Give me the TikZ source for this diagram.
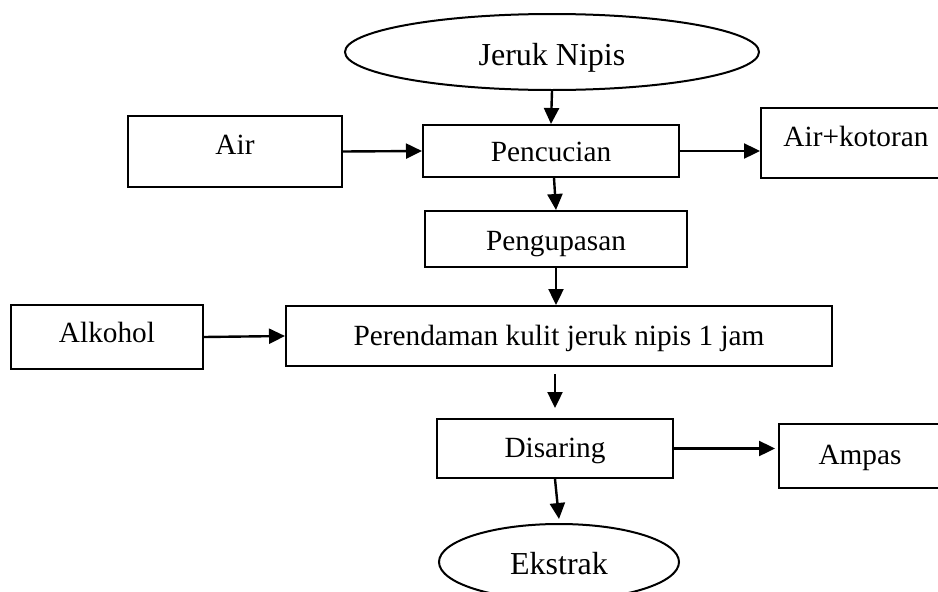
\documentclass[tikz,border=0pt]{standalone}
\usepackage{fontspec}
\setmainfont{Liberation Serif}
\usetikzlibrary{shapes.geometric,arrows.meta}
\begin{document}
\begin{tikzpicture}[x=1pt,y=-1pt,
  box/.style={font=\fontsize{29.3}{35}\selectfont,text height=19.4pt,text depth=0pt,draw,line width=2pt,rectangle,inner sep=0pt},
  oval/.style={font=\fontsize{32}{38}\selectfont,text height=21pt,text depth=0pt,draw,line width=2pt,ellipse,inner sep=0pt},
  arr/.style={line width=2.4pt,-{Triangle[length=16pt,width=15pt]}}]
\useasboundingbox (0,0) rectangle (938,592);
\clip (0,0) rectangle (938,592);
\node[oval,text height=26pt,minimum width=414pt,minimum height=76pt] (jn) at (552,52) {Jeruk Nipis};
\node[box,text height=21.4pt,minimum width=256pt,minimum height=52pt] (pc) at (551,151) {Pencucian};
\node[box,text depth=14pt,minimum width=214pt,minimum height=71pt] (air) at (235,151.5) {Air};
\node[box,text depth=13pt,minimum width=190pt,minimum height=70pt] (ak) at (856,143) {Air+kotoran};
\node[box,text height=22.4pt,minimum width=262pt,minimum height=56pt] (pg) at (556,239) {Pengupasan};
\node[box,minimum width=546pt,minimum height=60pt] (pr) at (559,336) {Perendaman kulit jeruk nipis 1 jam};
\node[box,text depth=8pt,minimum width=192pt,minimum height=64pt] (al) at (107,337) {Alkohol};
\node[box,text depth=1pt,minimum width=236pt,minimum height=59pt] (ds) at (555,448.5) {Disaring};
\node[box,text depth=3pt,minimum width=162pt,minimum height=64pt] (am) at (860,456) {Ampas};
\node[oval,text height=25pt,minimum width=240pt,minimum height=76pt] (ek) at (559,562) {Ekstrak};
\draw[arr] (jn.south) -- (pc.north);
\draw[arr] (air.east) -- (pc.west);
\draw[arr] (pc.east) -- (pc.east -| ak.west);
\draw[arr] ([xshift=3pt]pc.south) -- (pg.north);
\draw[arr] (pg.south) -- (pg.south |- pr.north);
\draw[arr] (al.east) -- (pr.west);
\coordinate (a1) at (ds.north |- pr.south);
\draw[arr] ([yshift=-7pt]a1) -- ([yshift=10pt]ds.north);
\draw[arr] (ds.east) -- ([xshift=-3pt]ds.east -| am.west);
\draw[arr] (ds.south) -- ([yshift=4pt]ek.north);
\end{tikzpicture}
\end{document}
